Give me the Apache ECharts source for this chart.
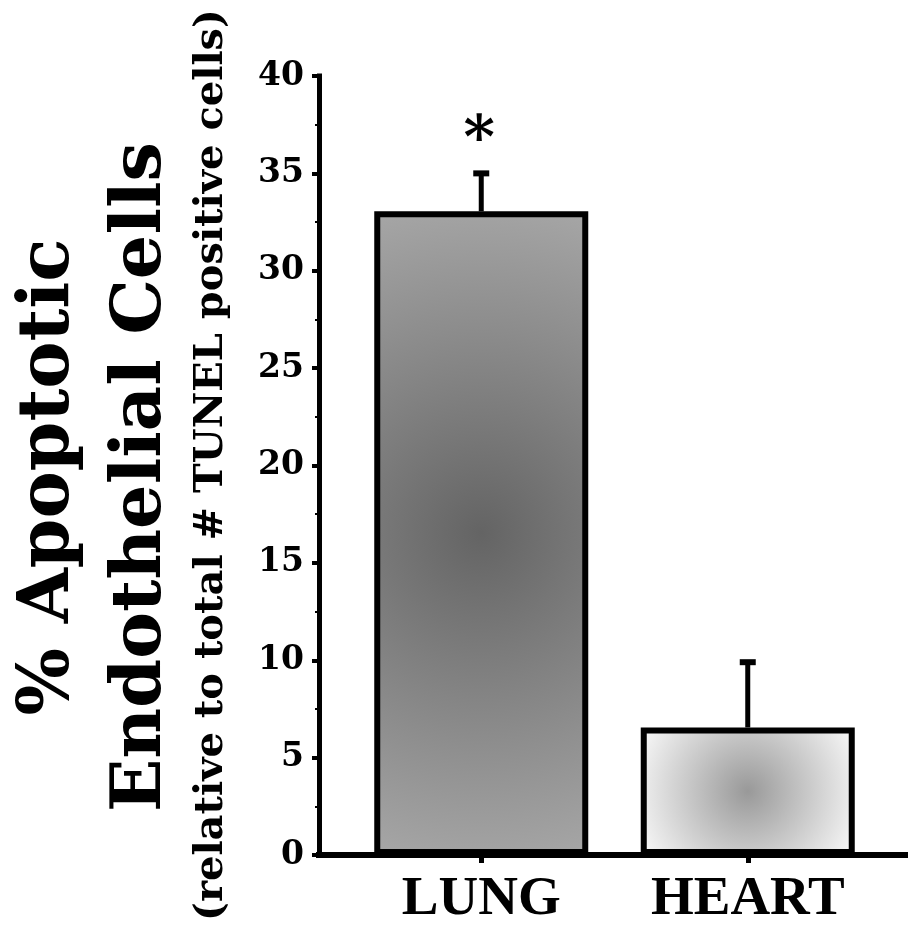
<!DOCTYPE html>
<html>
<head>
<meta charset="utf-8">
<script src="https://cdn.jsdelivr.net/npm/echarts@6/dist/echarts.min.js"></script>
<style>
html,body{margin:0;padding:0;background:#fff;}
#chart{width:919px;height:930px;}
</style>
</head>
<body>
<div id="chart"></div>
<script>
const categories = ['LUNG', 'HEART'];
const meanValues = [33.05, 6.55];
const errorValues = [1.95, 3.35];
const significance = ['*', ''];
const yTickValues = [0, 5, 10, 15, 20, 25, 30, 35, 40];
const titleLine1 = '% Apoptotic';
const titleLine2 = 'Endothelial Cells';
const titleLine3 = '(relative to total # TUNEL positive cells)';

const serif = 'DejaVu Serif';
const barFills = [
  {type: 'radial', x: 0.5, y: 0.5, r: 1.57, colorStops: [{offset: 0, color: '#646464'}, {offset: 1, color: '#a6a6a6'}]},
  {type: 'radial', x: 0.5, y: 0.5, r: 0.92, colorStops: [{offset: 0, color: '#999999'}, {offset: 1, color: '#f6f6f6'}]}
];

const chart = echarts.init(document.getElementById('chart'), null, {renderer: 'canvas'});

const option = {
  backgroundColor: '#ffffff',
  animation: false,
  grid: [
    {left: 319, right: 14, top: 76, bottom: 75},
    {left: 348, right: 38, top: 76, bottom: 75}
  ],
  xAxis: [
    {
      gridIndex: 0, type: 'value', min: 0, max: 1,
      axisLine: {show: true, lineStyle: {color: '#000', width: 6, cap: 'square'}},
      axisTick: {show: false}, axisLabel: {show: false}, splitLine: {show: false}
    },
    {
      gridIndex: 1, type: 'category', data: categories,
      axisLine: {show: false},
      axisTick: {show: true, alignWithLabel: true, length: 8, lineStyle: {color: '#000', width: 5}},
      axisLabel: {margin: 17, color: '#000', fontFamily: 'Liberation Serif', fontWeight: 'bold', fontSize: 55},
      splitLine: {show: false}
    }
  ],
  yAxis: [
    {
      gridIndex: 0, type: 'value', min: 0, max: 40, interval: 5,
      axisLine: {show: true, lineStyle: {color: '#000', width: 5, cap: 'square'}},
      axisTick: {show: true, length: 7, lineStyle: {color: '#000', width: 4}},
      minorTick: {show: true, splitNumber: 2, length: 4, lineStyle: {color: '#000', width: 2}},
      axisLabel: {
        margin: 15, color: '#000', fontFamily: serif, fontWeight: 'bold', fontSize: 33,
        formatter: function (v) { return yTickValues.indexOf(v) >= 0 ? String(v) : ''; }
      },
      splitLine: {show: false}
    },
    {
      gridIndex: 1, type: 'value', min: 0, max: 40, interval: 5, show: false
    }
  ],
  series: [
    {
      type: 'bar',
      xAxisIndex: 1, yAxisIndex: 1,
      barWidth: 214,
      data: meanValues.map(function (v, i) {
        return {value: v, itemStyle: {color: barFills[i], borderColor: '#000', borderWidth: 6}};
      }),
      z: 2
    },
    {
      type: 'custom',
      xAxisIndex: 1, yAxisIndex: 1,
      data: categories.map(function (c, i) { return [i, meanValues[i], errorValues[i]]; }),
      z: 3,
      renderItem: function (params, api) {
        const i = api.value(0);
        const m = api.value(1);
        const e = api.value(2);
        const base = api.coord([i, m]);
        const top = api.coord([i, m + e]);
        const children = [
          {type: 'line', shape: {x1: base[0], y1: base[1], x2: top[0], y2: top[1]}, style: {stroke: '#000', lineWidth: 5}},
          {type: 'line', shape: {x1: top[0] - 8, y1: top[1], x2: top[0] + 8, y2: top[1]}, style: {stroke: '#000', lineWidth: 6}}
        ];
        const s = significance[params.dataIndex];
        if (s) {
          children.push({
            type: 'text',
            x: top[0] - 2, y: top[1] - 31,
            style: {text: s, fill: '#000', font: 'bold 60px "DejaVu Serif"', textAlign: 'center', textVerticalAlign: 'middle'}
          });
        }
        return {type: 'group', children: children};
      }
    }
  ],
  graphic: [
    {type: 'text', x: 50, y: 477, rotation: Math.PI / 2,
      style: {text: titleLine1, fill: '#000', font: 'bold 71px "DejaVu Serif"', textAlign: 'center', textVerticalAlign: 'middle'}},
    {type: 'text', x: 142, y: 477, rotation: Math.PI / 2,
      style: {text: titleLine2, fill: '#000', font: 'bold 70px "DejaVu Serif"', textAlign: 'center', textVerticalAlign: 'middle'}},
    {type: 'text', x: 212, y: 465, rotation: Math.PI / 2,
      style: {text: titleLine3, fill: '#000', font: 'bold 40px "DejaVu Serif"', textAlign: 'center', textVerticalAlign: 'middle'}}
  ]
};
chart.setOption(option);
</script>
</body>
</html>
